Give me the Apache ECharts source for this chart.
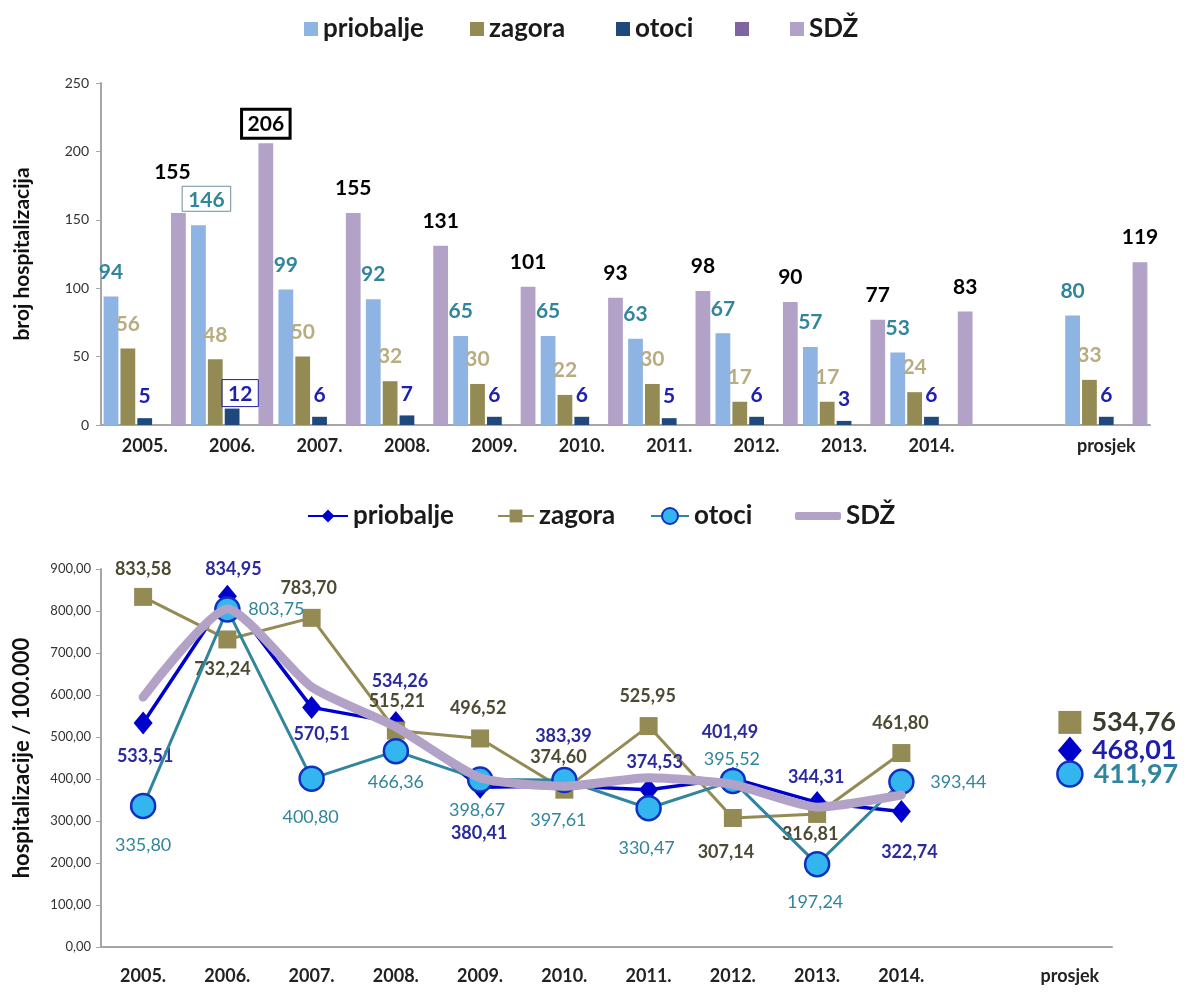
<!DOCTYPE html>
<html><head><meta charset="utf-8">
<script src="https://cdn.jsdelivr.net/npm/echarts@6/dist/echarts.min.js"></script>
<style>html,body{margin:0;padding:0;background:#fff}#c{width:1189px;height:992px}</style>
</head><body><div id="c"></div>
<script>
// ---- data ----
const categories = ['2005.','2006.','2007.','2008.','2009.','2010.','2011.','2012.','2013.','2014.','','prosjek'];
const barPriobalje = [94,146,99,92,65,65,63,67,57,53,null,80];
const barZagora    = [56,48,50,32,30,22,30,17,17,24,null,33];
const barOtoci     = [5,12,6,7,6,6,5,6,3,6,null,6];
const barSDZ       = [155,206,155,131,101,93,98,90,77,83,null,119];
const ratePriobalje = [533.51,834.95,570.51,534.26,380.41,383.39,374.53,401.49,344.31,322.74,null,468.01];
const rateZagora    = [833.58,732.24,783.70,515.21,496.52,374.60,525.95,307.14,316.81,461.80,null,534.76];
const rateOtoci     = [335.80,803.75,400.80,466.36,398.67,397.61,330.47,395.52,197.24,393.44,null,411.97];
const rateSDZ       = [595,805,619,524,403,383,403,387,333,362,null,null];
const barTicks  = [0,50,100,150,200,250];
const rateTicks = [0,100,200,300,400,500,600,700,800,900];

// ---- label placement (styling, separate from values) ----
const offPriobalje = [[2,33],[6,-27],[10,27],[4,-41],[-1,46],[-1,-50],[6,-28],[-3,-46],[-1,-25],[8,41]];
const offZagora    = [[0,-28],[-5,30],[-3,-30],[1,-29],[-2,-30],[-6,-32],[-1,-30],[-7,34],[-7,20],[-1,-30]];
const offOtoci     = [[0,39],[49,0],[-1,39],[0,31],[-3,31],[-6,40],[-2,40],[-1,-22],[-2,38],[57,0]];

const FONT = 'Lato';
const fmt2 = v => Number(v).toFixed(2).replace('.', ',');

function barData(values, special) {
  return values.map((v, i) => {
    if (v == null) return null;
    if (special && special[i]) return { value: v, label: special[i] };
    return v;
  });
}
function lineData(values, offsets, avgSize, avgColor) {
  return values.map((v, i) => {
    if (v == null) return null;
    if (i === values.length - 1) {
      return { value: v, symbolSize: avgSize,
        label: { position: 'right', distance: 10, offset: [0, 0], fontSize: 27, fontWeight: 'bold', color: avgColor } };
    }
    return { value: v, label: { position: 'inside', offset: offsets[i] } };
  });
}

const chart = echarts.init(document.getElementById('c'), null, { renderer: 'canvas' });

const legendText = { fontFamily: FONT, fontSize: 26, fontWeight: 'bold', color: '#1a1a1a' };
const mkLegend = (name, left, top, extra) => Object.assign({
  data: [name], left: left, top: top, itemGap: 0, itemWidth: 14, itemHeight: 14,
  textStyle: legendText, selectedMode: false, padding: 0
}, extra || {});

const axisLabelTop = { fontFamily: FONT, fontSize: 18, fontWeight: 'bold', color: '#222', margin: 12 };
const axisLabelBot = { fontFamily: FONT, fontSize: 18, fontWeight: 'bold', color: '#222', margin: 20 };
const axisLine = { show: true, lineStyle: { color: '#A6A6A6', width: 2 } };

const option = {
  animation: false,
  backgroundColor: '#fff',
  legend: [
    mkLegend('priobalje', 304, 16, { icon: 'rect' }),
    mkLegend('zagora', 470, 16, { icon: 'rect' }),
    mkLegend('otoci', 616, 16, { icon: 'rect' }),
    mkLegend(' ', 735, 16, { icon: 'rect' }),
    mkLegend('SDŽ', 790, 16, { icon: 'rect' }),
    mkLegend('priobalje ', 307, 503, { itemWidth: 40, itemHeight: 16, formatter: n => n.trim() }),
    mkLegend('zagora ', 497, 503, { itemWidth: 36, itemHeight: 16, formatter: n => n.trim() }),
    mkLegend('otoci ', 650, 503, { itemWidth: 38, itemHeight: 20, formatter: n => n.trim() }),
    mkLegend('SDŽ ', 795, 503, { icon: 'roundRect', itemWidth: 46, itemHeight: 8, formatter: n => n.trim() })
  ],
  grid: [
    { left: 101, right: 39, top: 83, height: 342 },
    { left: 101, right: 77, top: 569, height: 378 }
  ],
  xAxis: [
    { type: 'category', gridIndex: 0, data: categories, boundaryGap: true,
      axisLine: axisLine, axisTick: { show: false }, axisLabel: axisLabelTop, splitLine: { show: false } },
    { type: 'category', gridIndex: 1, data: categories, boundaryGap: true,
      axisLine: axisLine, axisTick: { show: false }, axisLabel: axisLabelBot, splitLine: { show: false } }
  ],
  yAxis: [
    { type: 'value', gridIndex: 0, min: barTicks[0], max: barTicks[barTicks.length - 1], interval: barTicks[1] - barTicks[0],
      name: 'broj hospitalizacija', nameLocation: 'middle', nameGap: 68,
      nameTextStyle: { fontFamily: FONT, fontSize: 21, fontWeight: 'bold', color: '#111' },
      axisLine: axisLine, axisTick: { show: true, length: 5, lineStyle: { color: '#A6A6A6' } },
      axisLabel: { fontFamily: FONT, fontSize: 14, color: '#333', margin: 12 }, splitLine: { show: false } },
    { type: 'value', gridIndex: 1, min: rateTicks[0], max: rateTicks[rateTicks.length - 1], interval: rateTicks[1] - rateTicks[0],
      name: 'hospitalizacije / 100.000', nameLocation: 'middle', nameGap: 68,
      nameTextStyle: { fontFamily: FONT, fontSize: 22, fontWeight: 'bold', color: '#111' },
      axisLine: axisLine, axisTick: { show: true, length: 5, lineStyle: { color: '#A6A6A6' } },
      axisLabel: { fontFamily: FONT, fontSize: 13, color: '#333', margin: 10, formatter: fmt2 }, splitLine: { show: false } }
  ],
  series: [
    { name: 'priobalje', type: 'bar', xAxisIndex: 0, yAxisIndex: 0, barCategoryGap: '6%', barGap: '14%',
      itemStyle: { color: '#8EB4E3' },
      label: { show: true, position: 'top', distance: 14, fontFamily: FONT, fontSize: 21, fontWeight: 'bold', color: '#31859C' },
      data: barData(barPriobalje, { 1: { offset: [8, 0], borderColor: '#6E8E9A', borderWidth: 1, padding: [3, 6, 1, 6] } }) },
    { name: 'zagora', type: 'bar', xAxisIndex: 0, yAxisIndex: 0, barCategoryGap: '6%', barGap: '14%',
      itemStyle: { color: '#948A54' },
      label: { show: true, position: 'top', distance: 14, fontFamily: FONT, fontSize: 21, fontWeight: 'bold', color: '#B8AD80' },
      data: barData(barZagora) },
    { name: 'otoci', type: 'bar', xAxisIndex: 0, yAxisIndex: 0, barCategoryGap: '6%', barGap: '14%',
      itemStyle: { color: '#1F497D' },
      label: { show: true, position: 'top', distance: 11, fontFamily: FONT, fontSize: 21, fontWeight: 'bold', color: '#2020B0' },
      data: barData(barOtoci, { 1: { offset: [8, 0], distance: 2, borderColor: '#2020B0', borderWidth: 1, padding: [4, 6, 2, 6] } }) },
    { name: ' ', type: 'bar', xAxisIndex: 0, yAxisIndex: 0, barCategoryGap: '6%', barGap: '14%',
      itemStyle: { color: '#8064A2' }, data: [] },
    { name: 'SDŽ', type: 'bar', xAxisIndex: 0, yAxisIndex: 0, barCategoryGap: '6%', barGap: '14%',
      itemStyle: { color: '#B3A2C7' },
      label: { show: true, position: 'top', distance: 14, fontFamily: FONT, fontSize: 21, fontWeight: 'bold', color: '#000' },
      data: barData(barSDZ, { 0: { offset: [-6, -16] }, 1: { distance: 5, borderColor: '#000', borderWidth: 3, padding: [5, 6, 3, 6] } }) },

    { name: 'priobalje ', type: 'line', xAxisIndex: 1, yAxisIndex: 1,
      symbol: 'diamond', symbolSize: [19, 23], color: '#0000CC',
      itemStyle: { color: '#0000CC' }, lineStyle: { color: '#0000CC', width: 3.5 },
      label: { show: true, fontFamily: FONT, fontSize: 18, fontWeight: 'bold', color: '#2A2A9E', formatter: p => fmt2(p.value) },
      data: lineData(ratePriobalje, offPriobalje, [24, 28], '#1E1EA8'), z: 3 },
    { name: 'zagora ', type: 'line', xAxisIndex: 1, yAxisIndex: 1,
      symbol: 'rect', symbolSize: 18, color: '#948A54',
      itemStyle: { color: '#948A54' }, lineStyle: { color: '#948A54', width: 3 },
      label: { show: true, fontFamily: FONT, fontSize: 18, fontWeight: 'bold', color: '#4D4A33', formatter: p => fmt2(p.value) },
      data: lineData(rateZagora, offZagora, 23, '#3B3B2E'), z: 3 },
    { name: 'otoci ', type: 'line', xAxisIndex: 1, yAxisIndex: 1,
      symbol: 'circle', symbolSize: 24, color: '#33B5F0',
      itemStyle: { color: '#33B5F0', borderColor: '#1030C0', borderWidth: 2.5 },
      lineStyle: { color: '#31859C', width: 3 },
      label: { show: true, fontFamily: FONT, fontSize: 18, color: '#31859C', formatter: p => fmt2(p.value) },
      data: lineData(rateOtoci, offOtoci, 25, '#31859C'), z: 4 },
    { name: 'SDŽ ', type: 'line', xAxisIndex: 1, yAxisIndex: 1,
      symbol: 'none', smooth: 0.2, color: '#B3A2C7',
      itemStyle: { color: '#B3A2C7' },
      lineStyle: { color: '#B3A2C7', width: 9, cap: 'round' },
      data: rateSDZ, z: 5 }
  ]
};
chart.setOption(option);
</script>
</body></html>
